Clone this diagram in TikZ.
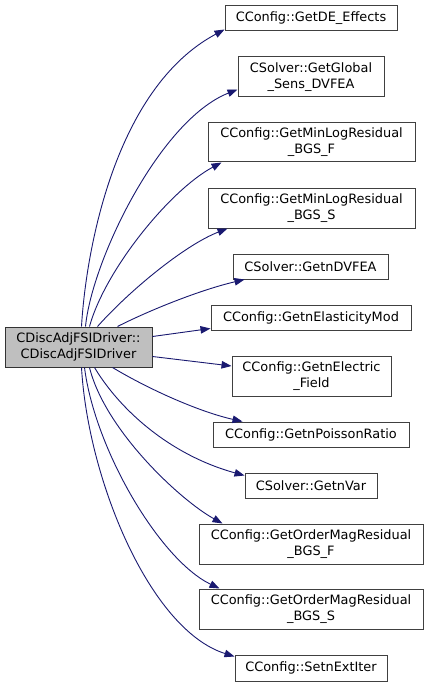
\documentclass[tikz,border=0pt]{standalone}
\usepackage{fontspec}
\setmainfont{DejaVu Sans}
\usetikzlibrary{arrows.meta}
\definecolor{edgeblue}{RGB}{25,25,112}
\definecolor{boxline}{RGB}{64,64,64}
\definecolor{mainfill}{RGB}{191,191,191}
\begin{document}
\begin{tikzpicture}[x=1pt,y=-1pt,
  box/.style={draw=boxline,line width=1pt,fill=white,inner sep=0pt,align=center,
    font=\fontsize{12.9}{16}\selectfont,text=black},
  mainbox/.style={box,draw=black!80,fill=mainfill},
  call/.style={draw=edgeblue,line width=0.9pt,-{Triangle[length=10pt,width=7.5pt]},fill=none}]
\useasboundingbox (0,0) rectangle (428,687);
\node[box,minimum width=172pt,minimum height=25pt] (de) at (311,18.5) {CConfig::GetDE\_Effects};
\node[box,minimum width=146pt,minimum height=40pt] (gs) at (311,77) {CSolver::GetGlobal\\\_Sens\_DVFEA};
\node[box,minimum width=207pt,minimum height=39pt] (mf) at (311.5,142.5) {CConfig::GetMinLogResidual\\\_BGS\_F};
\node[box,minimum width=207pt,minimum height=40pt] (ms) at (311.5,208) {CConfig::GetMinLogResidual\\\_BGS\_S};
\node[box,minimum width=155pt,minimum height=25pt] (dv) at (310.5,266.5) {CSolver::GetnDVFEA};
\node[box,minimum width=200pt,minimum height=25pt] (el) at (311,317.5) {CConfig::GetnElasticityMod};
\node[mainbox,minimum width=147pt,minimum height=40pt] (main) at (78.5,347) {CDiscAdjFSIDriver::\\CDiscAdjFSIDriver};
\node[box,minimum width=159pt,minimum height=40pt] (ef) at (311.5,376) {CConfig::GetnElectric\\\_Field};
\node[box,minimum width=196pt,minimum height=25pt] (pr) at (311,434.5) {CConfig::GetnPoissonRatio};
\node[box,minimum width=132pt,minimum height=25pt] (nv) at (311,485.5) {CSolver::GetnVar};
\node[box,minimum width=224pt,minimum height=40pt] (of) at (311,544) {CConfig::GetOrderMagResidual\\\_BGS\_F};
\node[box,minimum width=224pt,minimum height=40pt] (os) at (311,609) {CConfig::GetOrderMagResidual\\\_BGS\_S};
\node[box,minimum width=152pt,minimum height=26pt] (se) at (311,668) {CConfig::SetnExtIter};
% upward edges
\draw[call] ([xshift=77pt]main.north west) .. controls (86,250) and (115,88) .. ([yshift=2pt]de.south west);
\draw[call] ([xshift=81pt]main.north west) .. controls (92,260) and (160,120) .. ([yshift=8pt]gs.south west);
\draw[call] ([xshift=85pt]main.north west) .. controls (105,270) and (170,190) .. ([xshift=14pt]mf.south west);
\draw[call] ([xshift=93pt]main.north west) .. controls (130,290) and (185,245) .. ([xshift=20pt]ms.south west);
\draw[call] ([xshift=113pt]main.north west) .. controls (150,310) and (200,290) .. ([xshift=12pt]dv.south west);
% side edges
\draw[call] ([yshift=-10pt]main.north east) -- ([yshift=2pt]el.south west);
\draw[call] ([yshift=11pt]main.south east) -- ([yshift=10pt]ef.west);
% downward edges
\draw[call] ([xshift=108pt]main.south west) .. controls (150,390) and (200,412) .. ([xshift=30pt]pr.north west);
\draw[call] ([xshift=90pt]main.south west) .. controls (120,410) and (170,455) .. ([yshift=-3pt]nv.north west);
\draw[call] ([xshift=85pt]main.south west) .. controls (105,430) and (180,500) .. ([xshift=24pt]of.north west);
\draw[call] ([xshift=80pt]main.south west) .. controls (95,450) and (160,560) .. ([xshift=21pt]os.north west);
\draw[call] ([xshift=77pt]main.south west) .. controls (88,480) and (150,630) .. ([yshift=-2pt]se.north west);
\end{tikzpicture}
\end{document}
